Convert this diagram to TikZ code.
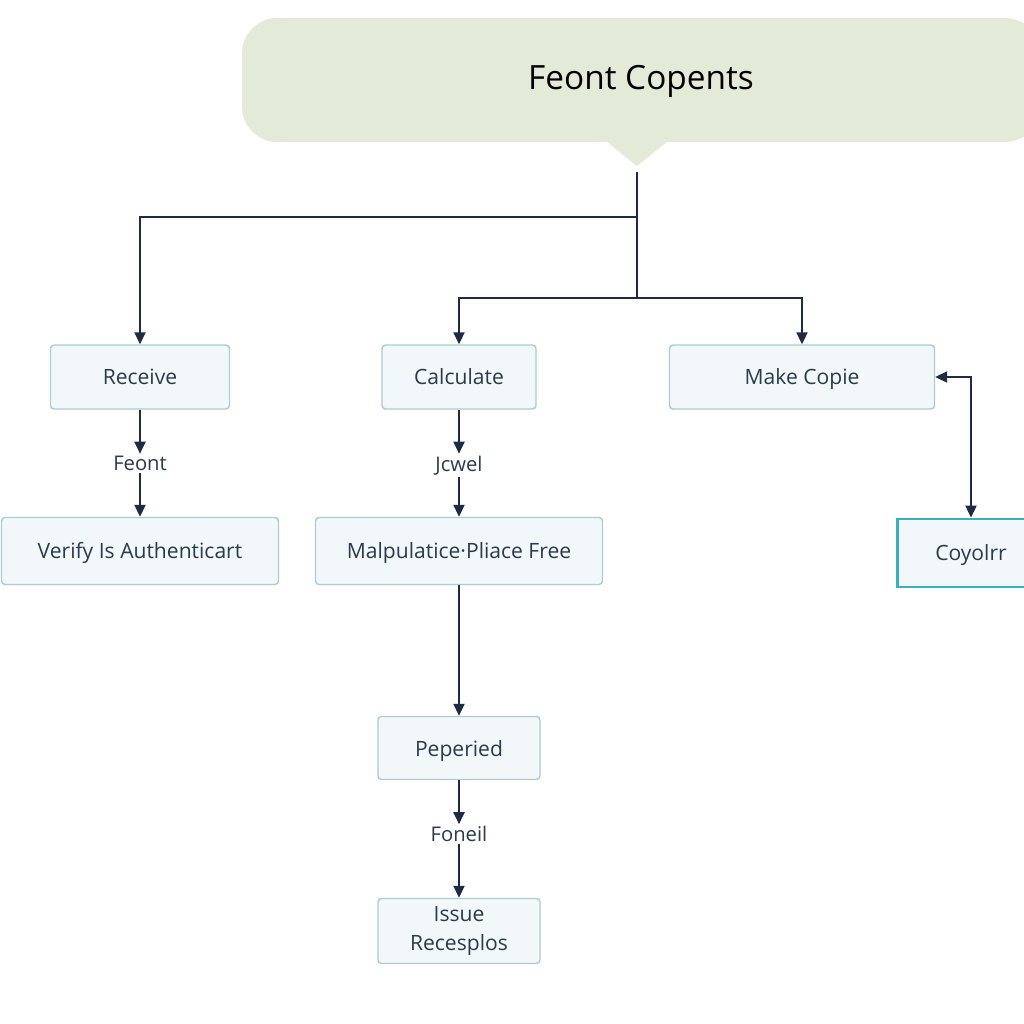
\documentclass[tikz,border=0pt]{standalone}
\usepackage{fontspec}
\setmainfont{Open Sans}
\usetikzlibrary{positioning,arrows.meta}
\definecolor{boxfill}{HTML}{F2F8F9}
\definecolor{boxline}{HTML}{A9CDD0}
\definecolor{navy}{HTML}{1E2B44}
\definecolor{txt}{HTML}{2B3A4C}
\definecolor{titlefill}{HTML}{E3EBD8}
\definecolor{teal}{HTML}{3AAFC0}
\tikzset{box/.style={draw=boxline,fill=boxfill,rounded corners=2pt,line width=0.8pt,text=txt,align=center,font=\fontsize{12}{16}\selectfont},
  sbox/.style={box,text height=2ex,text depth=.3ex},
  link/.style={draw=navy,line width=1.1pt,-{Triangle[length=2.4mm,width=2.2mm]}},
  both/.style={draw=navy,line width=1.1pt,{Triangle[length=2.4mm,width=2.2mm]}-{Triangle[length=2.4mm,width=2.2mm]}},
  lbl/.style={text=txt,font=\fontsize{11.5}{13}\selectfont,inner sep=1pt}}

\begin{document}
\begin{tikzpicture}[x=0.02cm,y=-0.02cm]
          \clip (0,0) rectangle (1024,1024);
          \fill[white] (0,0) rectangle (1024,1024);

          % header
          \node (title) [fill=titlefill,rounded corners=20pt,minimum width=15.96cm,minimum height=2.48cm,text=black,text height=2.2ex,text depth=.2ex,font=\fontsize{19}{22}\selectfont] at (641,80) {Feont Copents};
          \fill[titlefill] (606,141) -- (668,141) -- (637,166) -- cycle;
          \coordinate (tip) at (637,172);
          \coordinate (j1) at (637,217);
          \coordinate (j2) at (637,298);

          % boxes
          \node (rec) [sbox,minimum width=3.58cm,minimum height=1.28cm] at (140,377) {Receive};
          \node (calc) [sbox,minimum width=3.08cm,minimum height=1.28cm] at (459,377) {Calculate};
          \node (make) [sbox,minimum width=5.3cm,minimum height=1.28cm] at (802,377) {Make Copie};
          \node (ver) [sbox,minimum width=5.54cm,minimum height=1.34cm] at (140,551) {Verify Is Authenticart};
          \node (malp) [sbox,minimum width=5.74cm,minimum height=1.34cm] at (459,551) {Malpulatice·Pliace Free};
          \node (pep) [sbox,minimum width=3.24cm,minimum height=1.26cm] at (459,748) {Peperied};
          \node (iss) [box,minimum width=3.24cm,minimum height=1.3cm] at (459,931) {Issue\\Recesplos};
          \node (coy) [sbox,draw=teal,line width=1.6pt,rounded corners=0pt,minimum width=2.94cm,minimum height=1.36cm] at (971,553) {Coyolrr};

          % labels
          \node (feont) [lbl,below=0.88cm of rec] {Feont};
          \node (jcwel) [lbl,below=0.88cm of calc] {Jcwel};
          \node (foneil) [lbl,below=0.88cm of pep] {Foneil};

          % arrows
          \draw[draw=navy,line width=1.1pt] (tip) -- (j2);
          \draw[link] (j1) -| (rec);
          \draw[link] (j2) -| (calc);
          \draw[link] (j2) -| (make);
          \draw[link] (rec) -- (feont);
          \draw[link] (feont) -- (ver);
          \draw[link] (calc) -- (jcwel);
          \draw[link] (jcwel) -- (malp);
          \draw[link] (malp) -- (pep);
          \draw[link] (pep) -- (foneil);
          \draw[link] (foneil) -- (iss);
          \draw[both] (make.east) -| (coy.north);
\end{tikzpicture}
\end{document}
